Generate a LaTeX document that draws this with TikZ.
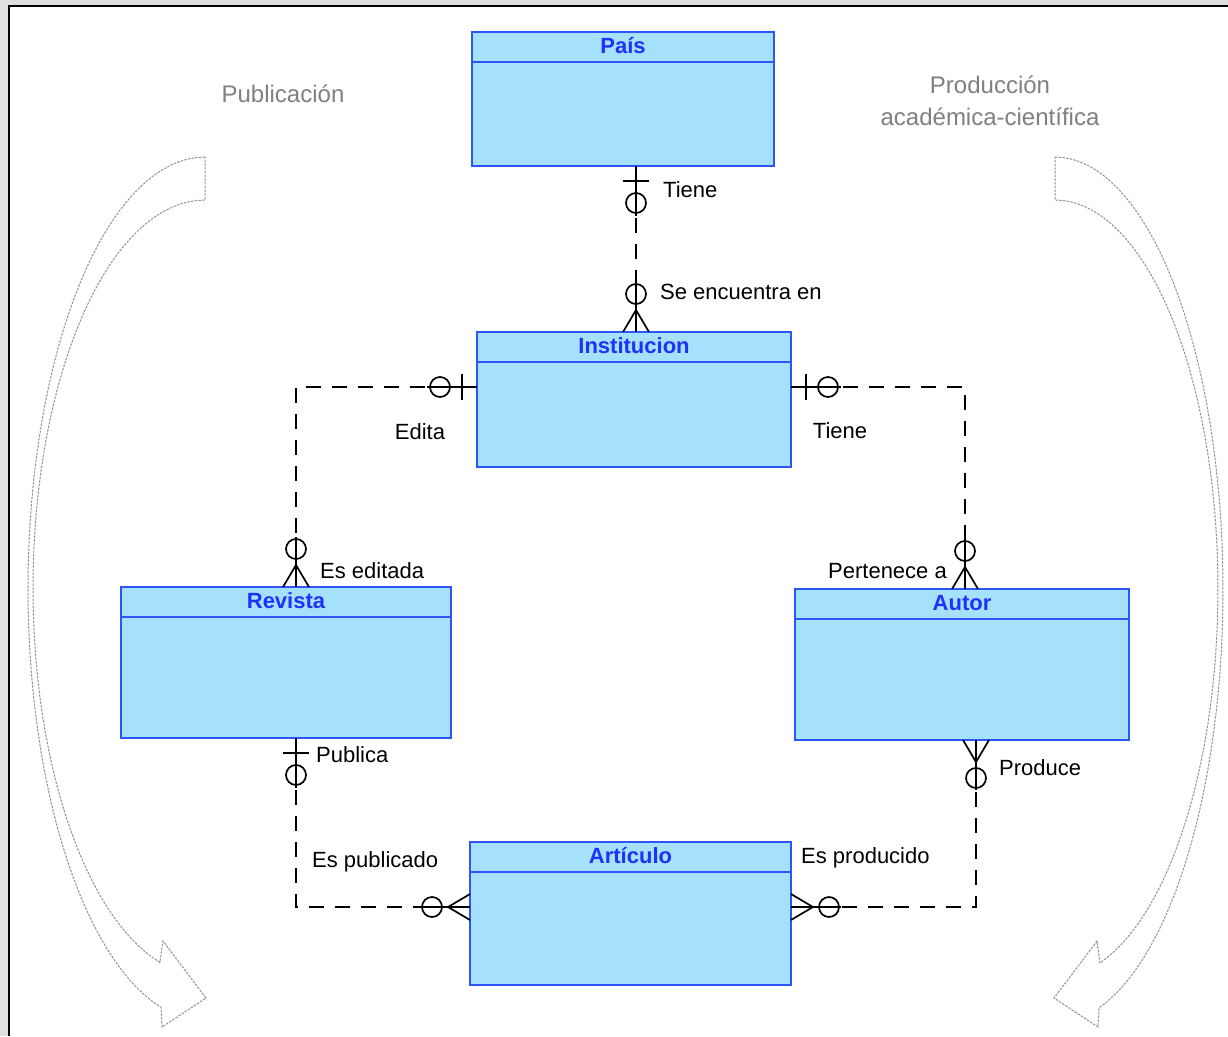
\documentclass[tikz,border=0pt]{standalone}
\usepackage{fontspec}
\setmainfont{Liberation Sans}
\usetikzlibrary{positioning,calc}

\definecolor{boxfill}{RGB}{166,225,252}
\definecolor{boxdraw}{RGB}{45,85,250}
\definecolor{titleblue}{RGB}{30,50,250}

% cardinality marks: #1 point on the box, #2 direction away from the box
\newcommand{\zeroone}[2]{%
  \begin{scope}[shift={(#1)}, rotate=#2]
    \draw[marker] (0,0) -- (50,0);
    \draw[marker] (15,-13) -- (15,13);
    \draw[marker] (37,0) circle (10);
  \end{scope}}
\newcommand{\zeromany}[2]{%
  \begin{scope}[shift={(#1)}, rotate=#2]
    \draw[marker] (0,0) -- (50,0);
    \draw[marker] (0,-13) -- (22,0) -- (0,13);
    \draw[marker] (38,0) circle (10);
  \end{scope}}

\begin{document}
\begin{tikzpicture}[x=1pt, y=-1pt,
  entity/.style={rectangle, draw=boxdraw, fill=boxfill, line width=2pt, inner sep=0pt, outer sep=0pt},
  titlenode/.style={font=\fontsize{22}{26}\selectfont\bfseries, text=titleblue, inner sep=0pt, minimum height=27pt},
  boxline/.style={draw=boxdraw, line width=2pt},
  relation/.style={line width=1.7pt, dash pattern=on 15pt off 11pt},
  marker/.style={line width=1.7pt},
  relnode/.style={font=\fontsize{22}{26}\selectfont, inner sep=0pt},
  graynode/.style={font=\fontsize{24}{32}\selectfont, text=gray, inner sep=0pt},
  bigarrow/.style={draw=gray!85, line width=1pt, dash pattern=on 2.5pt off 1.2pt}
  ]
  \useasboundingbox (0,0) rectangle (1228,1036);
  % Frame
  \fill[gray!25] (0,0) rectangle (1228,1036);
  \fill[white] (10,7) rectangle (1228,1036);
  \draw[line width=2.5pt] (9,1036) -- (9,6) -- (1228,6);

  % Entities
  \node[entity, minimum width=302, minimum height=134, label={[titlenode, below=0pt]north:País}]        (pais)  at (623,99)    {};
  \node[entity, minimum width=314, minimum height=135, label={[titlenode, below=0pt]north:Institucion}] (inst)  at (634,399.5) {};
  \node[entity, minimum width=330, minimum height=151, label={[titlenode, below=0pt]north:Revista}]     (rev)   at (286,662.5) {};
  \node[entity, minimum width=334, minimum height=151, label={[titlenode, below=0pt]north:Autor}]       (autor) at (962,664.5) {};
  \node[entity, minimum width=321, minimum height=143, label={[titlenode, below=0pt]north:Artículo}]    (art)   at (630.5,913.5) {};
  \foreach \e in {pais,inst,rev,autor,art}
    \draw[boxline] ($(\e.north west)+(0,30)$) -- ($(\e.north east)+(0,30)$);

  % Connector ends
  \coordinate (paisInst)  at ($(pais.south)+(13,0)$);
  \coordinate (instPais)  at (paisInst |- inst.north);
  \coordinate (instRev)   at ($(inst.north west)+(0,55)$);
  \coordinate (revInst)   at ($(rev.north)+(10,0)$);
  \coordinate (instAutor) at ($(inst.north east)+(0,55)$);
  \coordinate (autorInst) at ($(autor.north)+(3,0)$);
  \coordinate (revArt)    at ($(rev.south)+(10,0)$);
  \coordinate (artRev)    at ($(art.north west)+(0,65)$);
  \coordinate (autorArt)  at ($(autor.south)+(14,0)$);
  \coordinate (artAutor)  at ($(art.north east)+(0,65)$);

  % Relations
  \draw[relation] (paisInst) -- (instPais);
  \draw[relation] (instRev) -| (revInst);
  \draw[relation] (instAutor) -| (autorInst);
  \draw[relation] (revArt) |- (artRev);
  \draw[relation] (autorArt) |- (artAutor);

  \zeroone{paisInst}{-90}
  \zeromany{instPais}{90}
  \zeroone{instRev}{180}
  \zeromany{revInst}{90}
  \zeroone{instAutor}{0}
  \zeromany{autorInst}{90}
  \zeroone{revArt}{-90}
  \zeromany{artRev}{180}
  \zeromany{autorArt}{-90}
  \zeromany{artAutor}{0}

  % Relation labels
  \node[relnode, anchor=west] (tienePais)   at (663,190) {Tiene};
  \node[relnode, anchor=west] (seEncuentra) at (660,292) {Se encuentra en};
  \node[relnode]              (edita)       at (420,432) {Edita};
  \node[relnode]              (tieneAutor)  at (840,431) {Tiene};
  \node[relnode, anchor=west] (esEditada)   at (320,571) {Es editada};
  \node[relnode, anchor=east] (pertenece)   at (947,571) {Pertenece a};
  \node[relnode, anchor=west] (publica)     at (316,755) {Publica};
  \node[relnode, anchor=west] (produce)     at (999,768) {Produce};
  \node[relnode, anchor=west] (esPublicado) at (312,862) {Es publicado};
  \node[relnode, anchor=west] (esProducido) at (801,858) {Es producido};

  % Side titles
  \node[graynode]               (publicacion) at (283,94)  {Publicación};
  \node[graynode, align=center] (produccion)  at (990,101) {Producción\\académica-científica};

  % Curved arrows
  \draw[bigarrow] plot[domain=270:104.4, samples=60] ({205+177*cos(\x)},{589+432*sin(\x)})
    -- (162,1027) -- (206,998) -- (163,941)
    -- plot[domain=105.2:270, samples=60] ({205+172*cos(\x)},{588+388*sin(\x)}) -- cycle;
  \draw[bigarrow] plot[domain=-90:74.8, samples=60] ({1055+168*cos(\x)},{590+433*sin(\x)})
    -- (1098,1027) -- (1054,998) -- (1097,941)
    -- plot[domain=74:-90, samples=60] ({1055+163*cos(\x)},{589+389*sin(\x)}) -- cycle;
\end{tikzpicture}
\end{document}
